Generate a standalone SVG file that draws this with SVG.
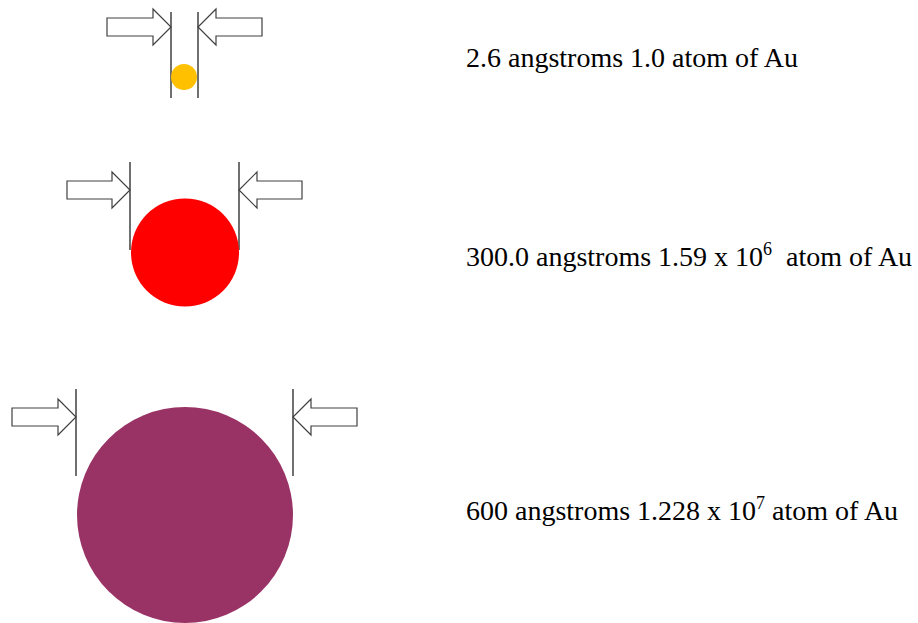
<svg xmlns="http://www.w3.org/2000/svg" width="918" height="623" viewBox="0 0 918 623">
<style>
.arr{fill:#fff;stroke:#404040;stroke-width:1.2;stroke-linejoin:miter}
.wall{stroke:#404040;stroke-width:1.5;fill:none}
.lbl{font-family:"Liberation Serif","Times New Roman",serif;font-size:28px;fill:#000}
.sup{font-size:18px}
</style>
<rect width="918" height="623" fill="#fff"/>
<g id="atom1">
<path class="arr" d="M107,18 H153 V9 L171,27 L153,45 V36 H107 Z"/>
<path class="arr" d="M262,18 H216 V9 L198,27 L216,45 V36 H262 Z"/>
<line class="wall" x1="171" y1="12" x2="171" y2="98"/>
<line class="wall" x1="198" y1="12" x2="198" y2="98"/>
<circle cx="184" cy="77" r="13" fill="#FFC000"/>
<text class="lbl" x="466" y="67">2.6 angstroms 1.0 atom of Au</text>
</g>
<g id="atom2">
<path class="arr" d="M67,181 H112 V172 L130,190 L112,208 V199 H67 Z"/>
<path class="arr" d="M302,181 H257 V172 L239,190 L257,208 V199 H302 Z"/>
<line class="wall" x1="130" y1="162" x2="130" y2="250"/>
<line class="wall" x1="239" y1="162" x2="239" y2="250"/>
<circle cx="185" cy="252.5" r="54" fill="#FF0000"/>
<text class="lbl" x="466" y="266">300.0 angstroms 1.59 x 10<tspan class="sup" dy="-11">6</tspan><tspan dy="11" xml:space="preserve">  atom of Au</tspan></text>
</g>
<g id="atom3">
<path class="arr" d="M12,408 H58 V399 L76,417 L58,435 V426 H12 Z"/>
<path class="arr" d="M357,408 H311 V399 L293,417 L311,435 V426 H357 Z"/>
<line class="wall" x1="76" y1="389" x2="76" y2="476"/>
<line class="wall" x1="293" y1="389" x2="293" y2="476"/>
<circle cx="185" cy="515" r="108" fill="#993366"/>
<text class="lbl" x="466" y="520">600 angstroms 1.228 x 10<tspan class="sup" dy="-11">7</tspan><tspan dy="11"> atom of Au</tspan></text>
</g>
<g id="connectors"/>
</svg>
